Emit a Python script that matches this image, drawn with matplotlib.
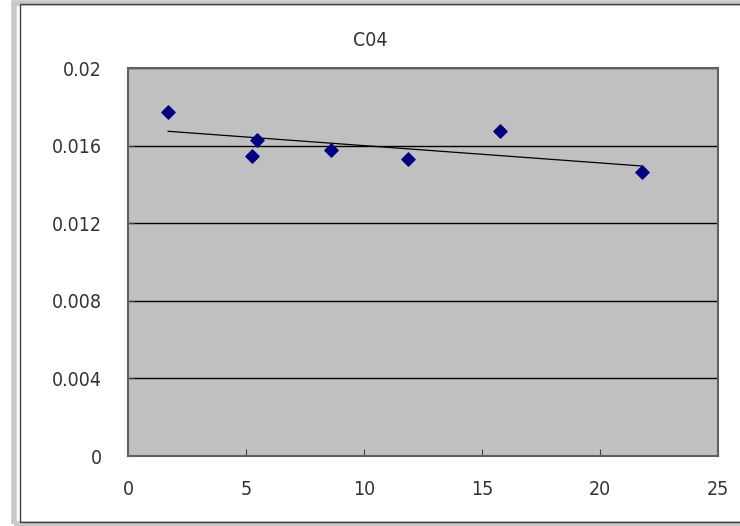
import numpy as np
import matplotlib
matplotlib.use("Agg")
import matplotlib.pyplot as plt
from matplotlib.patches import Rectangle

# data
x_vals = [1.7, 5.27, 5.48, 8.59, 11.86, 15.77, 21.77]
y_vals = [0.01773, 0.01546, 0.01629, 0.01577, 0.01531, 0.01675, 0.01464]
x_ticks = [0, 5, 10, 15, 20, 25]
y_ticks = [0, 0.004, 0.008, 0.012, 0.016, 0.02]
y_labels = ["0", "0.004", "0.008", "0.012", "0.016", "0.02"]

plt.rcParams['font.family'] = ['DejaVu Sans']
plt.rcParams['font.stretch'] = 'condensed'

fig = plt.figure(figsize=(7.4, 5.26), dpi=100)
fig.patch.set_facecolor('white')

# chart frame like the spreadsheet chart object
fig.patches.append(Rectangle((14 / 740, 0.004), 1.0, 0.99, transform=fig.transFigure,
                             facecolor='none', edgecolor='#c8c8c8', linewidth=4, zorder=0))
fig.patches.append(Rectangle((20 / 740, 4 / 526), 1.0, 1 - 8 / 526, transform=fig.transFigure,
                             facecolor='none', edgecolor='#404040', linewidth=1, zorder=1))

ax = fig.add_axes([128 / 740, 1 - 456 / 526, 590 / 740, 388 / 526])
ax.set_facecolor('#c0c0c0')

ax.scatter(x_vals, y_vals, marker='D', s=45, color='#000080', zorder=3)

# linear trendline
coef = np.polyfit(x_vals, y_vals, 1)
xs = np.array([min(x_vals), max(x_vals)])
ax.plot(xs, np.polyval(coef, xs), color='black', linewidth=0.9, zorder=2)

ax.set_xlim(0, 25)
ax.set_ylim(0, 0.02)
ax.set_xticks(x_ticks)
ax.set_yticks(y_ticks)
ax.set_yticklabels(y_labels)
ax.yaxis.grid(True, color='black', linewidth=1)
ax.set_axisbelow(True)
ax.tick_params(axis='x', direction='in', length=5, pad=17, labelsize=14, colors='#404040')
ax.tick_params(axis='y', direction='in', length=4, pad=19, labelsize=14, colors='#404040')
for t in ax.get_xticklabels() + ax.get_yticklabels():
    t.set_color('#333333')
for s in ax.spines.values():
    s.set_color('#606060')
    s.set_linewidth(1.5)

fig.text(370 / 740, 1 - 40 / 526, 'C04', fontsize=14, color='#333333', ha='center', va='center')

plt.savefig('out.png', dpi=100)
